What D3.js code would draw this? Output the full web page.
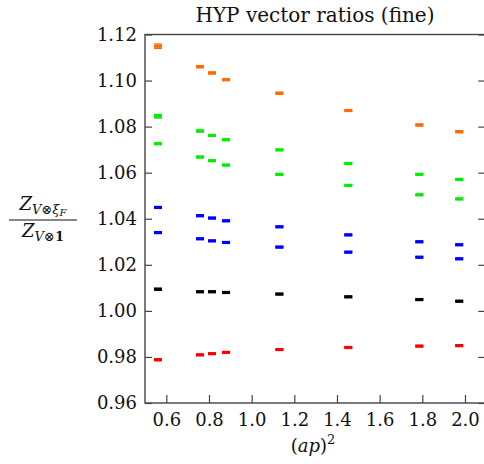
<!DOCTYPE html>
<html>
<head>
<meta charset="utf-8">
<script src="https://cdn.jsdelivr.net/npm/d3@7"></script>
<style>
  html, body { margin: 0; padding: 0; background: #fff; }
  svg { display: block; }
  text { font-family: "DejaVu Serif", serif; fill: #111; }
</style>
</head>
<body>
<svg id="chart" width="484" height="464"></svg>
<script>
// (ap)^2 values of the momentum points
const apSquared = [0.561, 0.758, 0.814, 0.880, 1.13, 1.453, 1.786, 1.973];

// Ratio series, one per channel
const orangeRatio = [1.1149, 1.1060, 1.1033, 1.1004, 1.0945, 1.0870, 1.0807, 1.0778];
const greenUpper  = [1.0845, 1.0781, 1.0762, 1.0743, 1.0699, 1.0640, 1.0593, 1.0571];
const greenLower  = [1.0726, 1.0668, 1.0652, 1.0633, 1.0593, 1.0545, 1.0504, 1.0486];
const blueUpper   = [1.0449, 1.0413, 1.0403, 1.0391, 1.0365, 1.0330, 1.0300, 1.0287];
const blueLower   = [1.0340, 1.0313, 1.0304, 1.0297, 1.0277, 1.0255, 1.0233, 1.0226];
const blackRatio  = [1.0094, 1.0083, 1.0083, 1.0080, 1.0073, 1.0061, 1.0049, 1.0042];
const redRatio    = [0.9788, 0.9809, 0.9814, 0.9820, 0.9832, 0.9841, 0.9847, 0.9849];

// Statistical errors
const orangeErr = [0.0010, 0.0004, 0.0004, 0.0004, 0.0004, 0.0004, 0.0004, 0.0004];
const greenUpErr = [0.0008, 0.0004, 0.0003, 0.0003, 0.0003, 0.0003, 0.0003, 0.0003];
const smallErr  = [0.0004, 0.0003, 0.0003, 0.0003, 0.0003, 0.0003, 0.0003, 0.0003];

const series = [
  { values: orangeRatio, errors: orangeErr,  color: "#ff6a00" },
  { values: greenUpper,  errors: greenUpErr, color: "#00ee00" },
  { values: greenLower,  errors: smallErr,   color: "#00ee00" },
  { values: blueUpper,   errors: smallErr,   color: "#0000ff" },
  { values: blueLower,   errors: smallErr,   color: "#0000ff" },
  { values: blackRatio,  errors: smallErr,   color: "#000000" },
  { values: redRatio,    errors: smallErr,   color: "#ff0000" }
];

const xTicks = [0.6, 0.8, 1.0, 1.2, 1.4, 1.6, 1.8, 2.0];
const yTicks = [0.96, 0.98, 1.00, 1.02, 1.04, 1.06, 1.08, 1.10, 1.12];

const svg = d3.select("#chart");
const plotLeft = 145, plotRight = 486.3, plotTop = 34.5, plotBottom = 403;

const x = d3.scaleLinear().domain([0.5, 2.1]).range([plotLeft, plotRight]);
const y = d3.scaleLinear().domain([0.96, 1.12]).range([plotBottom, plotTop]);

const frameColor = "#444";

// Frame
svg.append("rect")
  .attr("x", plotLeft).attr("y", plotTop)
  .attr("width", plotRight - plotLeft).attr("height", plotBottom - plotTop)
  .attr("fill", "none").attr("stroke", frameColor).attr("stroke-width", 1.4);

// Bottom axis: inward ticks
const xAxis = svg.append("g").attr("transform", `translate(0,${plotBottom})`)
  .call(d3.axisBottom(x).tickValues(xTicks).tickSizeInner(-8).tickSizeOuter(0)
        .tickPadding(10).tickFormat(d3.format(".1f")));
xAxis.select(".domain").remove();
xAxis.selectAll(".tick line").attr("stroke", frameColor).attr("stroke-width", 1.2);
xAxis.selectAll(".tick text").attr("font-size", 18).attr("font-family", "DejaVu Serif").attr("fill", "#111");

// Left axis
const yAxis = svg.append("g").attr("transform", `translate(${plotLeft},0)`)
  .call(d3.axisLeft(y).tickValues(yTicks).tickSizeInner(-7).tickSizeOuter(0)
        .tickPadding(8).tickFormat(d3.format(".2f")));
yAxis.select(".domain").remove();
yAxis.selectAll(".tick line").attr("stroke", frameColor).attr("stroke-width", 1.2);
yAxis.selectAll(".tick text").attr("font-size", 18).attr("font-family", "DejaVu Serif").attr("fill", "#111");

// Right axis ticks (no labels)
const yAxisR = svg.append("g").attr("transform", `translate(${plotRight},0)`)
  .call(d3.axisRight(y).tickValues(yTicks).tickSizeInner(-8).tickSizeOuter(0).tickFormat(""));
yAxisR.select(".domain").remove();
yAxisR.selectAll(".tick line").attr("stroke", frameColor).attr("stroke-width", 1.2);

// Data: short horizontal markers with capped error bars
const capW = 8;
series.forEach(s => {
  const g = svg.append("g");
  apSquared.forEach((a, i) => {
    const cx = x(a), v = s.values[i], e = s.errors[i];
    const yHi = y(v + e), yLo = y(v - e);
    g.append("rect")
      .attr("x", cx - capW / 2).attr("y", y(v) - 1.6)
      .attr("width", capW).attr("height", 3.2)
      .attr("fill", s.color);
    g.append("line")
      .attr("x1", cx - capW / 2).attr("x2", cx + capW / 2)
      .attr("y1", yHi).attr("y2", yHi)
      .attr("stroke", s.color).attr("stroke-width", 1.2);
    g.append("line")
      .attr("x1", cx - capW / 2).attr("x2", cx + capW / 2)
      .attr("y1", yLo).attr("y2", yLo)
      .attr("stroke", s.color).attr("stroke-width", 1.2);
    g.append("line")
      .attr("x1", cx).attr("x2", cx)
      .attr("y1", yHi).attr("y2", yLo)
      .attr("stroke", s.color).attr("stroke-width", 1.2);
  });
});

// Title
svg.append("text")
  .attr("x", 315).attr("y", 22)
  .attr("text-anchor", "middle").attr("font-size", 20)
  .text("HYP vector ratios (fine)");

// X axis label: (ap)^2
const xl = svg.append("text")
  .attr("x", 313).attr("y", 452)
  .attr("text-anchor", "middle").attr("font-size", 18);
xl.append("tspan").text("(");
xl.append("tspan").attr("font-style", "italic").text("ap");
xl.append("tspan").text(")");
xl.append("tspan").attr("font-size", 13).attr("dy", -8).text("2");

// Y axis label: Z_{V⊗ξ_F} / Z_{V⊗1}
const fx = 43, fy = 220;
const num = svg.append("text").attr("x", fx).attr("y", fy - 10)
  .attr("text-anchor", "middle").attr("font-size", 18);
num.append("tspan").attr("font-style", "italic").text("Z");
num.append("tspan").attr("font-size", 13).attr("dy", 4).attr("font-style", "italic").text("V");
num.append("tspan").attr("font-size", 13).text("⊗");
num.append("tspan").attr("font-size", 13).attr("font-style", "italic").text("ξ");
num.append("tspan").attr("font-size", 10).attr("dy", 2).attr("font-style", "italic").text("F");

svg.append("line")
  .attr("x1", 9).attr("x2", 77).attr("y1", fy).attr("y2", fy)
  .attr("stroke", "#111").attr("stroke-width", 1);

const den = svg.append("text").attr("x", fx).attr("y", fy + 17)
  .attr("text-anchor", "middle").attr("font-size", 18);
den.append("tspan").attr("font-style", "italic").text("Z");
den.append("tspan").attr("font-size", 13).attr("dy", 4).attr("font-style", "italic").text("V");
den.append("tspan").attr("font-size", 13).text("⊗");
den.append("tspan").attr("font-size", 13).attr("font-weight", "bold").text("1");
</script>
</body>
</html>
